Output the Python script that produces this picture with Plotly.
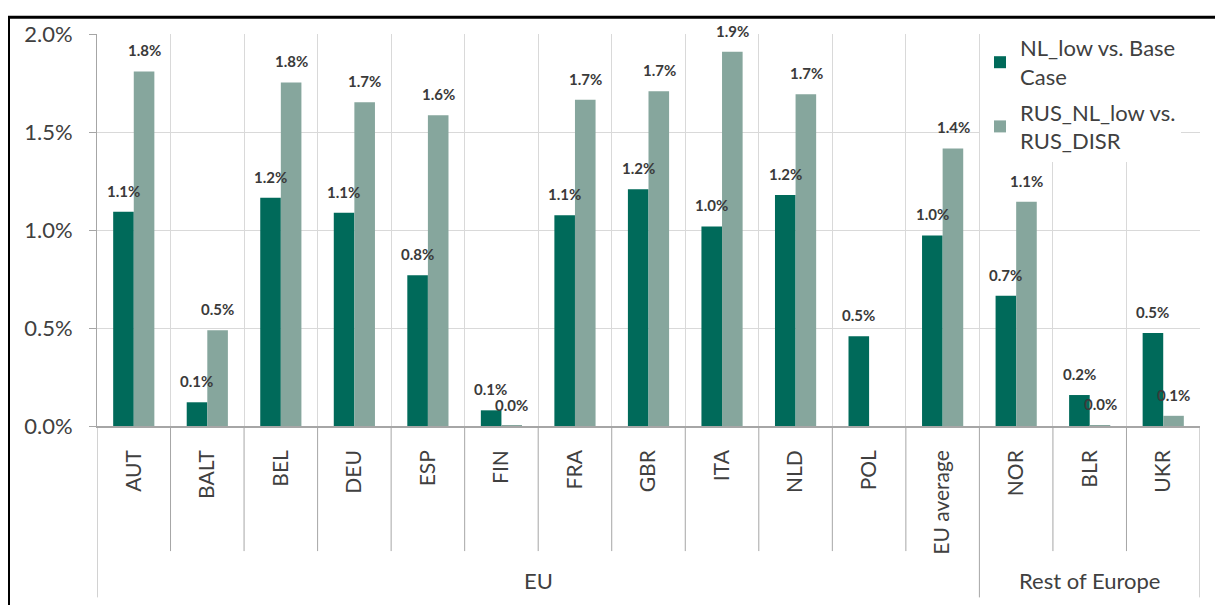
import plotly.graph_objects as go

categories = ["AUT", "BALT", "BEL", "DEU", "ESP", "FIN", "FRA", "GBR", "ITA", "NLD",
              "POL", "EU average", "NOR", "BLR", "UKR"]
groups = ["EU"] * 12 + ["Rest of Europe"] * 3
series_names = ["NL_low vs. Base<br>Case", "RUS_NL_low vs.<br>RUS_DISR"]
nl_low_vs_base = [1.093, 0.121, 1.164, 1.088, 0.769, 0.080, 1.075, 1.208, 1.018, 1.179,
                  0.458, 0.972, 0.665, 0.158, 0.475]
rus_nl_low_vs_disr = [1.809, 0.489, 1.753, 1.652, 1.586, 0.001, 1.664, 1.708, 1.909, 1.693,
                      None, 1.416, 1.144, 0.005, 0.052]
y_ticks = [0.0, 0.5, 1.0, 1.5, 2.0]

DARK = "#006A5A"
LIGHT = "#86A69D"
TEXT = "#404040"
GRID = "#D9D9D9"
AXIS = "#A6A6A6"
FONT = "Lato"

# page body has an 8px margin; coordinates below are in figure space
W, H = 1207, 597
ML, MR, MT, MB = 89, 15, 20, 179
plot_w = W - ML - MR
plot_h = H - MT - MB
base_y = MT + plot_h


def py(fig_y):
    return (base_y - fig_y) / plot_h


def px(fig_x):
    return (fig_x - ML) / plot_w


fig = go.Figure()
for name, vals, col in [(series_names[0], nl_low_vs_base, DARK),
                        (series_names[1], rus_nl_low_vs_disr, LIGHT)]:
    fig.add_trace(go.Bar(
        x=categories, y=[v / 100 if v is not None else None for v in vals],
        name=name, legendgroup=name, marker=dict(color=col, line=dict(width=0)),
    ))

# data labels
annotations = []
for vals, xs in [(nl_low_vs_base, -10.5), (rus_nl_low_vs_disr, 10.5)]:
    for c, v in zip(categories, vals):
        if v is None:
            continue
        annotations.append(dict(
            x=c, y=v / 100, xref="x", yref="y", text=f"<b>{v:.1f}%</b>",
            showarrow=False, xshift=xs, yshift=21, yanchor="middle",
            font=dict(family=FONT, size=15, color="#3A3A3A"),
        ))

# group labels
for g in ["EU", "Rest of Europe"]:
    idx = [i for i, gg in enumerate(groups) if gg == g]
    annotations.append(dict(
        x=sum(idx) / len(idx), y=py(575), xref="x", yref="paper",
        text=g, showarrow=False, yanchor="middle",
        font=dict(family=FONT, size=22, color=TEXT),
    ))

shapes = []
n = len(categories)
for i in range(n + 1):
    b = i - 0.5
    is_outer = i == 0 or i == n or groups[i] != groups[i - 1]
    shapes.append(dict(type="line", xref="x", yref="paper", x0=b, x1=b, y0=0,
                       y1=py(592) if is_outer else py(545),
                       line=dict(color=AXIS, width=1)))

# outer frame (left and top edges visible)
shapes.append(dict(type="rect", xref="paper", yref="paper",
                   x0=px(0.5), x1=px(W + 50), y0=py(H + 50), y1=py(3),
                   line=dict(color="black", width=3)))

fig.update_layout(
    width=W, height=H,
    margin=dict(l=ML, r=MR, t=MT, b=MB),
    paper_bgcolor="white", plot_bgcolor="white",
    barmode="group", bargap=0.44, bargroupgap=0,
    font=dict(family=FONT, color=TEXT),
    legend=dict(x=px(972), y=py(13), xanchor="left", yanchor="top",
                bgcolor="white", font=dict(family=FONT, size=22, color=TEXT),
                tracegroupgap=4),
    annotations=annotations,
    shapes=shapes,
    xaxis=dict(type="category", tickson="boundaries", showgrid=True, gridcolor=GRID,
               gridwidth=1, ticks="", tickangle=-90, ticklabelstandoff=14,
               tickfont=dict(family=FONT, size=21, color=TEXT),
               showline=True, linecolor=AXIS, linewidth=1.5,
               range=[-0.5, n - 0.5]),
    yaxis=dict(range=[0, 0.02], tickvals=[t / 100 for t in y_ticks], tickformat=".1%",
               showgrid=True, gridcolor=GRID, gridwidth=1,
               ticks="outside", ticklen=7, tickcolor=AXIS,
               showline=True, linecolor=AXIS, linewidth=1, zeroline=False,
               ticklabelstandoff=12,
               tickfont=dict(family=FONT, size=22, color=TEXT)),
)

fig.write_html("out.html")
